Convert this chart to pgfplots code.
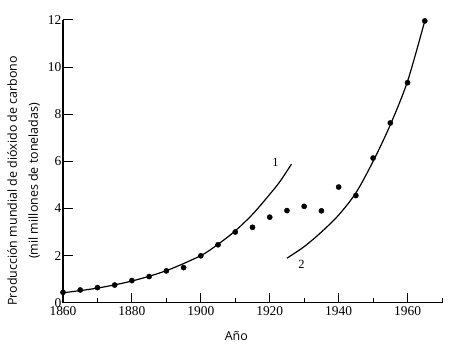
\documentclass[border=0pt]{standalone}
\usepackage{fontspec}
\setmainfont{Liberation Serif}
\newfontfamily\labelfont{Open Sans}
\usepackage{pgfplots}
\pgfplotsset{compat=1.18}
\begin{document}
\begin{tikzpicture}
\useasboundingbox (-63bp,-48.3bp) rectangle (387bp,302.7bp);
\begin{axis}[
  scale only axis, width=379bp, height=282.7bp,
  at={(0,0)}, anchor=south west,
  xmin=1860, xmax=1970, ymin=0, ymax=12,
  axis lines*=left,
  axis line style={line width=1.1pt},
  tick align=inside,
  xtick={1860,1880,...,1960},
  minor xtick={1870,1890,...,1970},
  ytick={0,2,...,12},
  major tick length=10bp, minor tick length=5bp,
  every tick/.style={black, line width=1pt},
  minor tick style={black, line width=1pt},
  /pgf/number format/assume math mode=true,
  /pgf/number format/set thousands separator={},
  tick label style={font=\fontsize{13.5}{15}\selectfont},
  yticklabel style={inner sep=1.5bp},
  clip=false,
]
% curve 1
\addplot[black, line width=1.2pt, smooth, no marks] coordinates {
(1860,0.42) (1870,0.62) (1880,0.92) (1890,1.36) (1900,2.0) (1905,2.48)
(1910,3.05) (1915,3.75) (1920,4.6) (1923,5.15) (1926.3,5.88)};
% curve 2
\addplot[black, line width=1.2pt, smooth, no marks] coordinates {
(1925,1.89) (1930,2.38) (1935,3.0) (1940,3.72) (1945,4.66) (1950,6.0)
(1955,7.55) (1960,9.4) (1965,11.96)};
% data
\addplot[only marks, mark=*, mark size=2.6bp, black] coordinates {
(1860,0.44) (1865,0.54) (1870,0.64) (1875,0.75) (1880,0.94) (1885,1.11)
(1890,1.35) (1895,1.49) (1900,1.99) (1905,2.46) (1910,3.0) (1915,3.2)
(1920,3.63) (1925,3.91) (1930,4.09) (1935,3.9) (1940,4.91) (1945,4.55)
(1950,6.14) (1955,7.63) (1960,9.34) (1965,11.96)};
\node[font=\fontsize{12.5}{14}\selectfont] at (axis cs:1921.7,5.97) {1};
\node[font=\fontsize{12.5}{14}\selectfont] at (axis cs:1929.2,1.63) {2};
\node[font=\labelfont\fontsize{12.5}{14}\selectfont, anchor=base] at (axis cs:1910.3,-1.587) {Año};
\node[font=\labelfont\fontsize{12.5}{21}\selectfont, rotate=90, align=center] at (axis cs:1848.55,5.17) {Producción mundial de dióxido de carbono\\(mil millones de toneladas)};
\end{axis}
\end{tikzpicture}
\end{document}
